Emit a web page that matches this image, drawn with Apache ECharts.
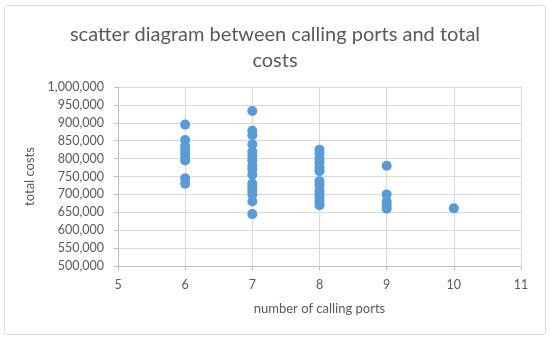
<!DOCTYPE html>
<html><head><meta charset="utf-8">
<script src="https://cdn.jsdelivr.net/npm/echarts@6/dist/echarts.min.js"></script>
<style>
html,body{margin:0;padding:0;background:#fff;}
#c{position:absolute;left:0;top:0;width:550px;height:341px;}
#b{position:absolute;left:4px;top:5px;width:540px;height:328px;border:1px solid #d9d9d9;border-radius:3px;}
</style></head>
<body><div id="b"></div><div id="c"></div>
<script>
const titleText = "scatter diagram between calling ports and total\ncosts";
const xName = "number of calling ports";
const yName = "total costs";
const ports6 = [895000, 852000, 835000, 825000, 815000, 805000, 795000, 745000, 730000];
const ports7 = [933000, 878000, 865000, 840000, 820000, 808000, 795000, 780000, 770000, 755000, 730000, 720000, 710000, 700000, 680000, 645000];
const ports8 = [825000, 815000, 800000, 790000, 775000, 765000, 737000, 725000, 710000, 700000, 690000, 680000, 670000];
const ports9 = [780000, 700000, 680000, 670000, 660000];
const ports10 = [661000];

const groups = [[6, ports6], [7, ports7], [8, ports8], [9, ports9], [10, ports10]];
const data = [];
groups.forEach(g => g[1].forEach(v => data.push([g[0], v])));

const font = "Lato, 'Open Sans', sans-serif";
const chart = echarts.init(document.getElementById('c'));
chart.setOption({
  animation: false,
  title: {text: titleText, left: 'center', top: 17,
    textStyle: {fontFamily: font, fontSize: 20, fontWeight: 'normal', color: '#595959', lineHeight: 26}},
  grid: {left: 118, right: 29, top: 87, bottom: 75},
  xAxis: {type: 'value', min: 5, max: 11, interval: 1,
    name: xName, nameLocation: 'middle', nameGap: 36,
    nameTextStyle: {fontFamily: font, fontSize: 13, color: '#595959'},
    axisLine: {show: true, lineStyle: {color: '#bfbfbf'}},
    axisTick: {show: true, length: 4, lineStyle: {color: '#bfbfbf'}},
    axisLabel: {fontFamily: font, fontSize: 12.5, color: '#595959', margin: 12},
    splitLine: {show: true, lineStyle: {color: '#d9d9d9'}}},
  yAxis: {type: 'value', min: 500000, max: 1000000, interval: 50000,
    name: yName, nameLocation: 'middle', nameGap: 80,
    nameTextStyle: {fontFamily: font, fontSize: 13, color: '#595959'},
    axisLine: {show: true, lineStyle: {color: '#bfbfbf'}},
    axisTick: {show: true, length: 4, inside: false, lineStyle: {color: '#bfbfbf'}},
    axisLabel: {fontFamily: font, fontSize: 12.5, color: '#595959', margin: 14,
      formatter: v => v.toLocaleString('en-US')},
    splitLine: {show: true, lineStyle: {color: '#d9d9d9'}}},
  series: [{type: 'scatter', data: data, symbolSize: 10,
    itemStyle: {color: '#5B9BD5', opacity: 1}}]
});
</script></body></html>
